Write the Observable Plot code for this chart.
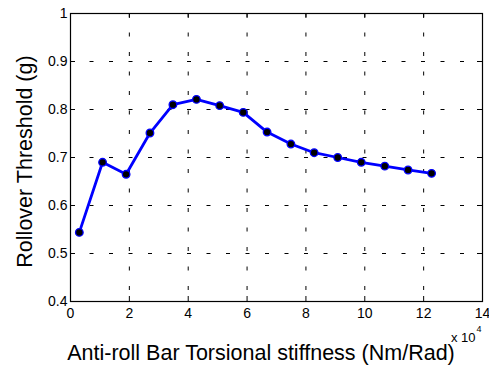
<!DOCTYPE html>
<html>
<head>
<meta charset="utf-8">
<script src="https://cdn.jsdelivr.net/npm/d3@7"></script>
<script src="https://cdn.jsdelivr.net/npm/@observablehq/plot@0.6"></script>
<style>
  html, body { margin: 0; padding: 0; background: #fff; }
</style>
</head>
<body>
<div id="chart"></div>
<script>
// Anti-roll bar torsional stiffness (Nm/rad)
const stiffness = [3000, 10900, 18900, 27000, 34800, 42800, 50700, 58700, 66800, 74900, 82800, 90800, 98800, 106800, 114700, 122700];
// Rollover threshold (g)
const threshold = [0.544, 0.690, 0.665, 0.751, 0.810, 0.821, 0.808, 0.794, 0.753, 0.728, 0.710, 0.700, 0.690, 0.682, 0.674, 0.667];

const xTicks = [0, 20000, 40000, 60000, 80000, 100000, 120000, 140000];
const yTicks = [0.4, 0.5, 0.6, 0.7, 0.8, 0.9, 1];
const xTitle = "Anti-roll Bar Torsional stiffness (Nm/Rad)";
const yTitle = "Rollover Threshold (g)";
const xExponentBase = "x 10";
const xExponent = "4";

const data = stiffness.map((s, i) => ({x: s, y: threshold[i]}));

const W = 489, H = 365;
const mL = 70, mR = 7, mT = 13, mB = 64;
const fw = W - mL - mR, fh = H - mT - mB;
const tickLen = 5;

const chart = Plot.plot({
  width: W,
  height: H,
  marginLeft: mL,
  marginRight: mR,
  marginTop: mT,
  marginBottom: mB,
  style: {fontFamily: "'Liberation Sans', Arial, sans-serif", fontSize: "14px", background: "#fff", color: "#000"},
  x: {domain: [0, 140000]},
  y: {domain: [0.4, 1]},
  marks: [
    Plot.ruleX(xTicks, {x: d => d, stroke: "#000", strokeWidth: 1, strokeDasharray: "4,15.5"}),
    Plot.ruleY(yTicks, {y: d => d, stroke: "#000", strokeWidth: 1, strokeDasharray: "4,15.5"}),
    Plot.tickX(xTicks, {x: d => d, stroke: "#000", insetTop: fh - tickLen}),
    Plot.tickX(xTicks, {x: d => d, stroke: "#000", insetBottom: fh - tickLen}),
    Plot.tickY(yTicks, {y: d => d, stroke: "#000", insetRight: fw - tickLen}),
    Plot.tickY(yTicks, {y: d => d, stroke: "#000", insetLeft: fw - tickLen}),
    Plot.frame({stroke: "#000", strokeWidth: 1.2}),
    Plot.axisX(xTicks, {tickSize: 0, tickPadding: 7, tickFormat: d => String(d / 10000), label: null, fontSize: 14}),
    Plot.axisY(yTicks, {tickSize: 0, tickPadding: 3, tickFormat: d => String(d), label: null, fontSize: 14}),
    Plot.line(data, {x: "x", y: "y", stroke: "#0000ff", strokeWidth: 2.8}),
    Plot.dot(data, {x: "x", y: "y", r: 3.8, fill: "#000", stroke: "#0000ff", strokeWidth: 1.3}),
    Plot.text([xTitle], {frameAnchor: "bottom", dx: -15.5, dy: 52, fontSize: 21.5, textAnchor: "middle", lineAnchor: "middle", fill: "#000"}),
    Plot.text([yTitle], {frameAnchor: "left", dx: -45, dy: 4, rotate: -90, fontSize: 21.5, textAnchor: "middle", lineAnchor: "middle", fill: "#000"}),
    Plot.text([xExponentBase], {frameAnchor: "bottom-right", dx: -7, dy: 36, textAnchor: "end", fontSize: 13, lineAnchor: "middle", fill: "#000"}),
    Plot.text([xExponent], {frameAnchor: "bottom-right", dx: -6, dy: 28, textAnchor: "start", fontSize: 9, lineAnchor: "middle", fill: "#000"})
  ]
});

document.getElementById("chart").appendChild(chart);
</script>
</body>
</html>
